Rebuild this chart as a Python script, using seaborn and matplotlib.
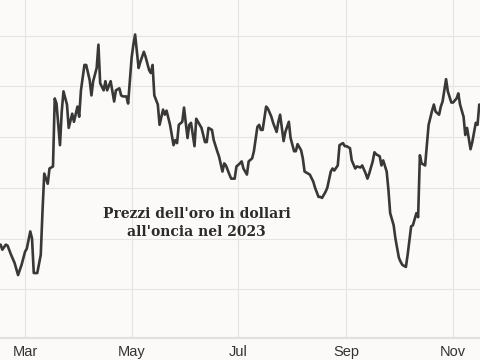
# Gold price per ounce in dollars, 2023 (line chart)
import seaborn as sns
import matplotlib
matplotlib.use("Agg")
import matplotlib.pyplot as plt
import matplotlib.dates as mdates
import pandas as pd

# Dates (2023, month-day) and closing prices
days = [
    "02-15", "02-16", "02-18", "02-19", "02-21", "02-23", "02-25", "02-27",
    "03-01", "03-02", "03-04", "03-05", "03-06", "03-08", "03-10", "03-11",
    "03-12", "03-14", "03-15", "03-17", "03-18", "03-19", "03-21", "03-22",
    "03-23", "03-25", "03-26", "03-28", "03-29", "03-31",
    "04-01", "04-02", "04-04", "04-05", "04-07", "04-08", "04-09", "04-11",
    "04-12", "04-13", "04-15", "04-16", "04-17", "04-19", "04-20", "04-21",
    "04-22", "04-24", "04-25", "04-26", "04-28", "04-29",
    "05-01", "05-02", "05-03", "05-05", "05-06", "05-08", "05-09", "05-11",
    "05-12", "05-13", "05-14", "05-16", "05-17", "05-19", "05-20", "05-21",
    "05-23", "05-25", "05-26", "05-27", "05-28", "05-30", "05-31",
    "06-02", "06-03", "06-04", "06-06", "06-07", "06-09", "06-10", "06-12",
    "06-13", "06-14", "06-16", "06-17", "06-19", "06-20", "06-22", "06-23",
    "06-24", "06-26", "06-27", "06-29", "06-30",
    "07-02", "07-03", "07-04", "07-06", "07-07", "07-09", "07-10", "07-12",
    "07-13", "07-14", "07-15", "07-17", "07-18", "07-20", "07-21", "07-23",
    "07-24", "07-25", "07-27", "07-28", "07-30", "07-31",
    "08-02", "08-03", "08-04", "08-06", "08-07", "08-08", "08-10", "08-11",
    "08-13", "08-14", "08-16", "08-17", "08-18", "08-20", "08-21", "08-23",
    "08-24", "08-25", "08-27", "08-28", "08-30", "08-31",
    "09-01", "09-03", "09-04", "09-06", "09-07", "09-09", "09-10", "09-12",
    "09-13", "09-14", "09-16", "09-17", "09-18", "09-20", "09-21", "09-22",
    "09-24", "09-25", "09-26", "09-28", "09-29",
    "10-01", "10-02", "10-03", "10-05", "10-06", "10-08", "10-09", "10-11",
    "10-12", "10-13", "10-14", "10-16", "10-17", "10-18", "10-20", "10-21",
    "10-22", "10-24", "10-25", "10-26", "10-28", "10-29", "10-31",
    "11-01", "11-03", "11-04", "11-05", "11-07", "11-08", "11-09", "11-11",
    "11-12", "11-14", "11-15", "11-16",
]
prices = [
    1844, 1839, 1844, 1843, 1834, 1826, 1814, 1824,
    1837, 1840, 1857, 1850, 1816, 1816, 1834, 1877,
    1914, 1904, 1919, 1921, 1988, 1983, 1942, 1975,
    1995, 1982, 1959, 1973, 1965, 1980,
    1970, 1996, 2021, 2021, 2006, 1991, 2005, 2018,
    2041, 2003, 1996, 2005, 1996, 2005, 1995, 1985,
    1996, 1998, 1991, 1990, 1990, 1983,
    2028, 2041, 2051, 2018, 2024, 2034, 2029, 2016,
    2013, 2021, 1991, 1982, 1962, 1977, 1972, 1976,
    1962, 1942, 1947, 1944, 1962, 1965, 1979,
    1949, 1962, 1964, 1941, 1968, 1962, 1959, 1945,
    1945, 1959, 1957, 1947, 1936, 1931, 1916, 1924,
    1922, 1913, 1909, 1909, 1921,
    1924, 1926, 1919, 1913, 1926, 1929, 1936, 1960,
    1962, 1957, 1957, 1980, 1978, 1970, 1964, 1955,
    1965, 1972, 1946, 1955, 1965, 1949,
    1936, 1936, 1943, 1937, 1929, 1916, 1914, 1913,
    1906, 1900, 1891, 1891, 1890, 1896, 1900, 1916,
    1919, 1917, 1922, 1942, 1944, 1941,
    1941, 1939, 1927, 1919, 1921, 1920, 1922, 1914,
    1909, 1914, 1926, 1935, 1933, 1931, 1922, 1927,
    1916, 1898, 1875, 1863, 1850,
    1831, 1827, 1824, 1822, 1834, 1862, 1863, 1875,
    1871, 1932, 1924, 1922, 1942, 1962, 1976, 1982,
    1975, 1972, 1980, 1985, 2007, 1995, 1984,
    1984, 1988, 1993, 1982, 1970, 1952, 1959, 1938,
    1945, 1964, 1962, 1982,
]
grid_levels = [1800, 1850, 1900, 1950, 2000, 2050]
title = "Prezzi dell'oro in dollari\nall'oncia nel 2023"

bg = "#fbfaf8"

df = pd.DataFrame({"date": pd.to_datetime(["2023-" + d for d in days]), "price": prices})

sns.set_theme(style="whitegrid")
plt.rcParams["font.family"] = ["Liberation Sans", "DejaVu Sans"]

fig = plt.figure(figsize=(4.8, 3.6), dpi=100, facecolor=bg)
ax = fig.add_axes([0, 22 / 360, 1, 338 / 360], facecolor=bg)

sns.lineplot(data=df, x="date", y="price", ax=ax, color="#383838", linewidth=1.9)

# axis range: the chart is cropped mid-February to mid-November
ax.set_xlim(pd.Timestamp("2023-02-14 16:00"), pd.Timestamp("2023-11-16 10:00"))
ax.set_ylim(1752, 2085)
ax.set_yticks(grid_levels)
ax.xaxis.set_major_locator(mdates.MonthLocator(bymonth=[3, 5, 7, 9, 11]))
ax.xaxis.set_major_formatter(mdates.DateFormatter("%b"))

ax.grid(True, color="#e6e4e1", linewidth=0.8)
ax.tick_params(axis="y", left=False, labelleft=False, length=0)
ax.tick_params(axis="x", bottom=False, length=0, labelsize=10.5,
               labelcolor="#333333", pad=5)
ax.set_xlabel("")
ax.set_ylabel("")
for side in ["top", "left", "right"]:
    ax.spines[side].set_visible(False)
ax.spines["bottom"].set_color("#e3e1de")
ax.spines["bottom"].set_linewidth(1.6)

ax.text(
    0.41, 0.34, title, transform=ax.transAxes, ha="center", va="center",
    family="DejaVu Serif", fontweight="bold", fontsize=10, color="#2b2b2b",
    linespacing=1.35,
)

plt.savefig("out.png", dpi=100, facecolor=bg)
